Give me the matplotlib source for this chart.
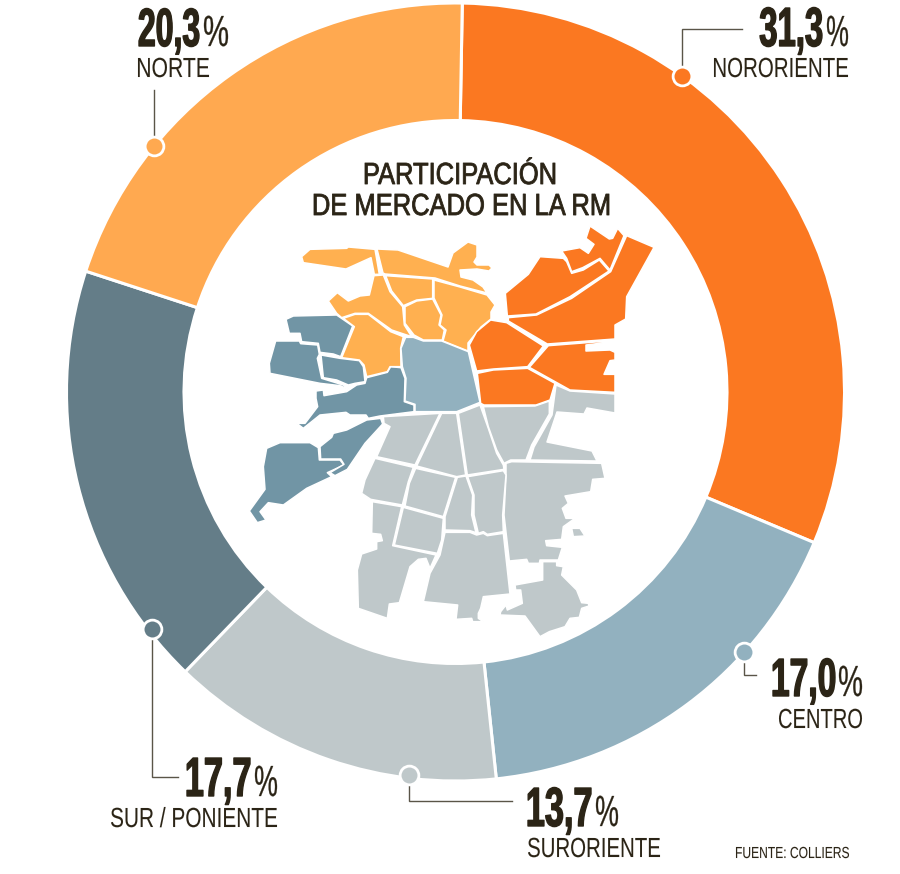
import matplotlib
matplotlib.use('Agg')
import matplotlib.pyplot as plt
from matplotlib.patches import Polygon
from matplotlib.path import Path
from matplotlib.text import Text
from matplotlib.textpath import TextPath
from matplotlib.transforms import Affine2D, Bbox

# slices, clockwise from the top
zonas = ['NORORIENTE', 'CENTRO', 'SURORIENTE', 'SUR / PONIENTE', 'NORTE']
# arc sizes, the printed figures are in etiquetas
valores = [31.05, 17.0, 13.9, 17.8, 20.25]
etiquetas = ['31,3', '17,0', '13,7', '17,7', '20,3']
colores = ['#fb7821', '#92b1bf', '#bfc8ca', '#647d88', '#ffa950']

TINTA = '#2b2416'
MAPA_NORTE = '#ffb050'
MAPA_ORIENTE = '#fb7821'
MAPA_CENTRO = '#92b1bf'
MAPA_SUR = '#bfc8ca'
MAPA_PONIENTE = '#7195a5'


def z1(pts):
    return [(240 + x / 3, 215 + y / 3) for x, y in pts]


def z2(pts):
    return [(460 + x / 3, 215 + y / 3) for x, y in pts]


def z3(pts):
    return [(350 + x / 3, 400 + y / 3) for x, y in pts]


def z5(pts):
    return [(240 + x / 3, 400 + y / 3) for x, y in pts]


comunas_norte = [
    z1([(185, 125), (210, 103), (320, 100), (325, 96), (405, 103), (418, 178), (403, 178), (393, 128), (318, 162), (190, 143)]),
    [(377, 249), (398, 250), (448, 267), (453, 253), (468, 242), (477, 245), (477, 257), (474, 262), (477, 265), (489, 265),
     (492, 268), (489, 271), (477, 269), (460, 270), (461, 277), (473, 280), (483, 287), (487, 293), (460, 286), (435, 278),
     (385, 274), (383, 273)],
    z1([(265, 258), (292, 233), (325, 258), (360, 243), (388, 240), (402, 182), (430, 180), (450, 230), (488, 275), (493, 330),
        (515, 365), (455, 345), (385, 295), (345, 295), (305, 308), (290, 295)]),
    z1([(345, 298), (385, 298), (452, 350), (490, 365), (482, 400), (483, 455), (450, 455), (442, 470), (380, 485), (372, 450),
        (358, 435), (305, 428), (343, 335), (310, 310)]),
    z1([(437, 182), (578, 192), (578, 250), (530, 255), (490, 272), (455, 228)]),
    z1([(495, 275), (530, 258), (578, 252), (603, 300), (597, 330), (613, 345), (607, 375), (550, 375), (522, 360), (495, 325)]),
    [(434, 280), (460, 287), (487, 295), (495, 305), (491, 312), (491, 319), (481, 327), (468, 343), (468, 351), (443, 341),
     (446, 330), (440, 325), (442, 315), (434, 298)],
]

comunas_poniente = [
    z1([(138, 313), (160, 303), (290, 300), (338, 333), (302, 425), (280, 417), (240, 412), (235, 385), (185, 380), (180, 355), (148, 355)]),
    z1([(107, 378), (178, 378), (182, 386), (233, 390), (238, 418), (232, 430), (245, 490), (310, 510), (330, 525), (300, 512),
        (240, 505), (90, 475), (88, 445)]),
    z1([(243, 420), (300, 430), (358, 437), (370, 455), (375, 500), (345, 505), (325, 510), (290, 495), (250, 488)]),
    z1([(228, 528), (250, 525), (252, 542), (320, 530), (350, 510), (375, 505), (380, 488), (442, 472), (452, 455), (483, 458),
        (495, 490), (493, 560), (522, 570), (522, 590), (420, 603), (385, 610), (378, 600), (330, 600), (318, 592), (240, 600),
        (190, 640), (170, 625), (195, 625), (233, 575), (228, 550)]),
    z5([(80, 145), (120, 128), (210, 128), (235, 143), (238, 180), (300, 180), (312, 195), (262, 218), (275, 230), (200, 265),
        (130, 315), (85, 308), (60, 335), (78, 360), (52, 368), (28, 333), (75, 268), (70, 200)]),
    z5([(240, 140), (275, 112), (280, 100), (320, 90), (380, 60), (422, 55), (428, 72), (375, 130), (322, 208), (285, 227),
        (270, 218), (312, 193), (302, 177), (242, 177)]),
]

comuna_centro = [
    z1([(497, 367), (520, 367), (550, 378), (605, 378), (685, 410), (720, 562), (650, 590), (525, 590), (525, 568), (495, 558),
        (498, 490), (487, 455), (483, 400)]),
]

comunas_oriente = [
    z2([(136, 235), (205, 178), (240, 125), (310, 130), (320, 140), (335, 175), (370, 165), (418, 135), (447, 168), (330, 245), (228, 297), (142, 303)]),
    z2([(305, 108), (360, 98), (385, 115), (402, 88), (378, 70), (390, 33), (448, 72), (458, 70), (473, 40), (492, 62), (450, 165),
        (420, 130), (368, 158), (335, 170), (320, 130)]),
    z2([(500, 62), (582, 97), (500, 245), (497, 312), (465, 330), (465, 372), (262, 387), (145, 318), (145, 308), (230, 300), (335, 250), (452, 170)]),
    z2([(92, 315), (140, 323), (250, 393), (203, 455), (100, 462), (50, 468), (28, 390), (50, 350)]),
    z2([(265, 392), (445, 378), (443, 382), (378, 390), (378, 408), (450, 405), (465, 412), (465, 435), (450, 437), (432, 478),
        (465, 478), (465, 532), (330, 525), (208, 457)]),
    z2([(52, 475), (100, 465), (203, 460), (285, 505), (270, 555), (228, 570), (72, 570), (62, 565)]),
]

comunas_sur = [
    z3([(100, 50), (270, 40), (195, 195), (80, 170), (120, 80), (102, 70)]),
    z3([(275, 40), (320, 40), (347, 225), (320, 230), (200, 198)]),
    z3([(325, 40), (390, 15), (415, 85), (440, 160), (460, 195), (462, 208), (352, 225)]),
    z3([(400, 20), (555, 18), (598, 3), (598, 42), (545, 135), (528, 180), (482, 180), (462, 190), (440, 150), (415, 80)]),
    [(556, 385), (570, 391), (615, 394), (615, 413), (587, 408), (584, 414), (557, 412), (547, 442), (592, 451), (597, 461),
     (530, 460), (534, 447), (552, 415)],
    z3([(468, 190), (485, 185), (755, 190), (765, 235), (728, 238), (722, 275), (645, 288), (655, 310), (637, 325), (648, 355),
        (675, 355), (640, 380), (635, 418), (587, 422), (590, 437), (637, 442), (625, 480), (570, 480), (568, 490), (535, 490),
        (530, 478), (478, 483), (462, 345), (468, 230)]),
    z3([(665, 385), (690, 385), (705, 408), (670, 410)]),
    z3([(75, 175), (190, 202), (175, 245), (157, 315), (62, 298), (35, 280), (45, 240)]),
    z3([(197, 205), (317, 232), (280, 350), (165, 318), (178, 250)]),
    z3([(322, 232), (348, 228), (368, 285), (365, 345), (378, 398), (360, 392), (285, 390), (285, 350)]),
    z3([(353, 230), (460, 212), (468, 225), (458, 345), (460, 395), (412, 403), (400, 395), (385, 400), (372, 345), (372, 285)]),
    z3([(160, 322), (280, 355), (275, 420), (262, 460), (133, 435)]),
    z3([(67, 305), (155, 320), (128, 437), (258, 465), (240, 505), (228, 475), (205, 478), (180, 500), (148, 608), (118, 612),
        (112, 655), (25, 625), (22, 510), (35, 462), (80, 447), (80, 425), (97, 422), (92, 403), (65, 400)]),
    z3([(285, 397), (360, 397), (380, 405), (400, 400), (412, 407), (460, 400), (480, 582), (400, 590), (392, 625), (385, 640),
        (385, 655), (400, 665), (368, 665), (365, 655), (318, 658), (323, 615), (220, 605), (240, 520), (270, 465), (280, 420)]),
    z3([(578, 485), (620, 485), (620, 497), (640, 500), (635, 525), (680, 570), (695, 608), (715, 610), (717, 618), (695, 625),
        (688, 652), (660, 655), (645, 680), (598, 695), (570, 710), (525, 648), (450, 645), (452, 635), (468, 615), (472, 630),
        (517, 610), (512, 570), (497, 570), (495, 555), (578, 540)]),
]


class FitText(Text):
    # text squeezed to a given box, no condensed face is installed
    def __init__(self, s, x0, x1, top, base, stroke=0.0, **kw):
        super().__init__(x0, base, s, **kw)
        self.caja = (x0, x1, top, base)
        self.stroke = stroke

    def _colocar(self):
        fp = self.get_fontproperties()
        p = TextPath((0, 0), self.get_text(), size=100, prop=fp)
        cap = TextPath((0, 0), 'H', size=100, prop=fp).get_extents().height
        ext = p.get_extents()
        x0, x1, top, base = self.caja
        (dx0, dbase), (dx1, dtop) = self.get_transform().transform([(x0, base), (x1, top)])
        tr = (Affine2D().translate(-ext.x0, 0)
              .scale((dx1 - dx0) / ext.width, (dtop - dbase) / cap)
              .translate(dx0, dbase))
        return Path(p.vertices, p.codes), tr

    def get_window_extent(self, renderer=None, dpi=None):
        path, tr = self._colocar()
        return Bbox(path.transformed(tr).get_extents().get_points())

    def draw(self, renderer):
        if not self.get_visible():
            return
        path, tr = self._colocar()
        gc = renderer.new_gc()
        gc.set_foreground(self.get_color())
        gc.set_linewidth(self.stroke)
        renderer.draw_path(gc, path, tr, matplotlib.colors.to_rgb(self.get_color()))
        gc.restore()


fig = plt.figure(figsize=(9, 8.74), dpi=100)
ax = fig.add_axes([0, 0, 1, 1])

# y axis goes down like the picture, so counterclock here reads clockwise
ax.pie(valores, colors=colores, startangle=-89, counterclock=True, radius=389,
       center=(455.5, 392), frame=True,
       wedgeprops=dict(width=117.5, edgecolor='white', linewidth=2.2))
ax.set_aspect('auto')
ax.set_xlim(0, 900)
ax.set_ylim(874, 0)
ax.axis('off')

capas = [(comunas_sur, MAPA_SUR), (comunas_poniente, MAPA_PONIENTE), (comunas_norte, MAPA_NORTE),
         (comunas_oriente, MAPA_ORIENTE), (comuna_centro, MAPA_CENTRO)]
for comunas, color in capas:
    for pts in comunas:
        ax.add_patch(Polygon(pts, closed=True, facecolor=color, edgecolor='white', linewidth=1.1, joinstyle='round'))

# leaders and dots
lineas = [
    ([682, 682, 742], [70, 29, 29]),
    ([154, 154], [140, 90]),
    ([744, 744, 756], [660, 675, 675]),
    ([152, 152, 178], [635, 777, 777]),
    ([409, 409, 512], [782, 801, 801]),
]
for xs, ys in lineas:
    ax.plot(xs, ys, color='#5a5548', lw=1.0, solid_joinstyle='miter')

punto_x = [682, 744, 409, 152, 154]
punto_y = [76, 652, 775, 629, 146]
for x, y, c in zip(punto_x, punto_y, colores):
    ax.plot([x], [y], 'o', ms=13.5, mfc=c, mec='white', mew=2.0, zorder=5)


def poner(s, x0, x1, top, base, weight='normal', stroke=0.3):
    ax.add_artist(FitText(s, x0, x1, top, base, stroke=stroke, color=TINTA, family='Liberation Sans',
                          weight=weight, transform=ax.transData))


poner('PARTICIPACIÓN', 365, 555, 163, 184, stroke=0.6)
poner('DE MERCADO EN LA RM', 314, 609, 194, 215, stroke=0.6)

# big figure, percent sign, name
rotulos = [
    (etiquetas[0], 760, 822, 8, 46, 827, 848, zonas[0], 714, 848, 58, 77),
    (etiquetas[1], 773, 835, 659, 696, 839, 862, zonas[1], 779, 862, 709, 728),
    (etiquetas[2], 528, 591, 788, 826, 596, 618, zonas[2], 528, 660, 838, 857),
    (etiquetas[3], 187, 250, 758, 796, 255, 277, zonas[3], 111, 277, 808, 827),
    (etiquetas[4], 139, 199, 9, 46, 204, 228, zonas[4], 138, 209, 58, 77),
]
for num, nx0, nx1, ntop, nbase, px0, px1, zona, zx0, zx1, ztop, zbase in rotulos:
    poner(num, nx0, nx1, ntop, nbase, weight='bold', stroke=1.0)
    poner('%', px0, px1, nbase - 30, nbase, stroke=0.2)
    poner(zona, zx0, zx1, ztop, zbase, stroke=0.05)

poner('FUENTE: COLLIERS', 736, 849, 847, 858, stroke=0.05)

fig.savefig('out.png', dpi=100)
